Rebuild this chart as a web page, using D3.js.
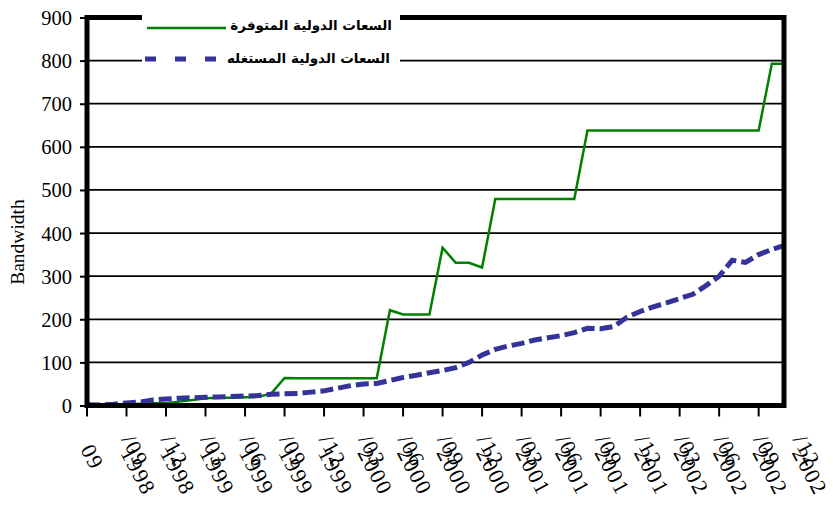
<!DOCTYPE html>
<html><head><meta charset="utf-8">
<script src="https://cdn.jsdelivr.net/npm/d3@7/dist/d3.min.js"></script>
<style>body{margin:0;background:#fff}svg{display:block}</style>
</head><body>
<svg id="chart" width="833" height="511"></svg>
<script>
// ---- data ----
const seriesNames = ["السعات الدولية المتوفرة", "السعات الدولية المستغله"];
const available = [0,1,2,3,4,5,5,9,13,17,18,18,19,20,28,64,63,63,63,63,63,63,63,221,211,211,211,366,331,331,320,
  479,479,479,479,479,479,479,
  638,638,638,638,638,638,638,638,638,638,638,638,638,638,
  793,793];
const used = [2,1,3,6,8,13,15,17,18,19,20,21,22,23,26,27,28,31,34,40,46,50,51,58,65,70,76,81,88,100,117,
  130,138,144,152,157,162,169,179,178,183,205,218,229,238,248,258,278,300,337,332,350,362,372];
const xLabels = ["09","09/1998","12/1998","03/1999","06/1999","09/1999","12/1999","03/2000","06/2000","09/2000",
  "12/2000","03/2001","06/2001","09/2001","12/2001","03/2002","06/2002","09/2002","12/2002"];
const yTicks = [0,100,200,300,400,500,600,700,800,900];
const yTitle = "Bandwidth";

// ---- layout ----
const svg = d3.select("#chart");
const L = 87, R = 784, T = 17.5, B = 405.5;
const SERIF = "Liberation Serif";
const x = d3.scaleLinear().domain([0, available.length - 1]).range([L, R + 1]);
const y = d3.scaleLinear().domain([0, 900]).range([B, T]);

svg.append("rect").attr("width", 833).attr("height", 511).attr("fill", "#fff");

// gridlines
svg.append("g").selectAll("line").data(yTicks.filter(d => d > 0 && d < 900)).join("line")
  .attr("x1", L).attr("x2", R).attr("y1", d => y(d)).attr("y2", d => y(d))
  .attr("stroke", "#000").attr("stroke-width", 1.8);

// y axis ticks + labels
const yAxis = d3.axisLeft(y).tickValues(yTicks).tickSize(7).tickPadding(8);
const gy = svg.append("g").attr("transform", `translate(${L},0)`).call(yAxis)
  .attr("font-family", SERIF).attr("font-size", 20.5);
gy.select(".domain").remove();
gy.selectAll(".tick line").attr("stroke", "#000").attr("stroke-width", 2);
gy.selectAll(".tick text").attr("fill", "#000").attr("dy", "0.34em");

svg.append("text").attr("transform", "translate(24,242) rotate(-90)")
  .attr("text-anchor", "middle").attr("font-family", SERIF).attr("font-size", 19.5).text(yTitle);

// x ticks
const tickIdx = d3.range(0, available.length - 1, 3);
svg.append("g").selectAll("line").data(tickIdx).join("line")
  .attr("x1", d => x(d)).attr("x2", d => x(d)).attr("y1", B).attr("y2", B + 11)
  .attr("stroke", "#000").attr("stroke-width", 2);

// x labels (rotated, two wrapped lines overlapping like the original)
const gl = svg.append("g");
xLabels.forEach((lab, k) => {
  const px = x(k * 3);
  const g = gl.append("g").attr("transform", `translate(${px - 1},444) rotate(62)`)
    .attr("font-family", SERIF).attr("font-size", 22).attr("letter-spacing", 1.5).attr("fill", "#000");
  const parts = lab.split("/");
  if (parts.length === 1) {
    g.append("text").attr("x", 2).attr("y", 8).text(parts[0]);
  } else {
    g.append("text").attr("x", -6).attr("y", 2).text("/" + parts[0]);
    g.append("text").attr("x", 5).attr("y", 9).text(parts[1]);
  }
});

// lines
const line = d3.line().x((d, i) => x(i)).y(d => y(d));
svg.append("path").datum(available).attr("d", line).attr("fill", "none")
  .attr("stroke", "#008000").attr("stroke-width", 2.5).attr("stroke-linejoin", "miter");
svg.append("path").datum(used).attr("d", line).attr("fill", "none")
  .attr("stroke", "#333399").attr("stroke-width", 5).attr("stroke-dasharray", "13,5");

// frame
svg.append("rect").attr("x", L).attr("y", T).attr("width", R - L).attr("height", B - T)
  .attr("fill", "none").attr("stroke", "#000").attr("stroke-width", 5);

// legend
const lg = svg.append("g");
lg.append("rect").attr("x", 142).attr("y", 2).attr("width", 258).attr("height", 72).attr("fill", "#fff");
lg.append("line").attr("x1", 147).attr("x2", 226).attr("y1", 28).attr("y2", 28)
  .attr("stroke", "#008000").attr("stroke-width", 2.5);
lg.append("line").attr("x1", 145).attr("x2", 220).attr("y1", 59).attr("y2", 59)
  .attr("stroke", "#333399").attr("stroke-width", 5).attr("stroke-dasharray", "11,19");
lg.selectAll("text").data(seriesNames).join("text")
  .attr("x", (d, i) => i === 0 ? 392 : 390).attr("y", (d, i) => i === 0 ? 30 : 63)
  .attr("text-anchor", "end").attr("font-family", "DejaVu Sans")
  .attr("font-weight", "bold").attr("font-size", 13.5).attr("fill", "#000").text(d => d);
</script>
</body></html>
